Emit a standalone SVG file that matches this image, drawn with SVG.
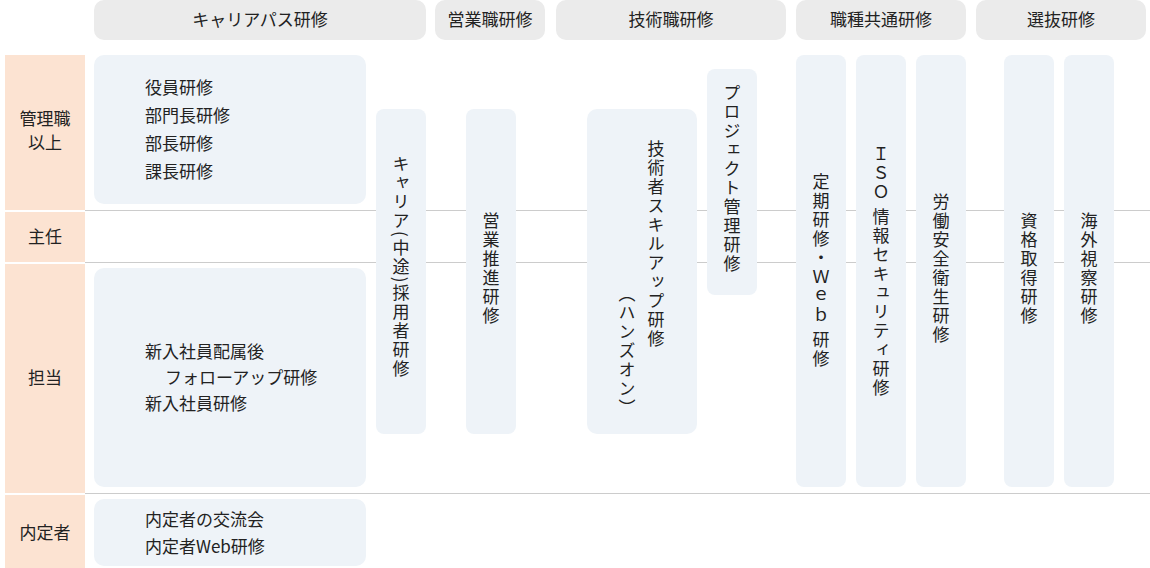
<svg xmlns="http://www.w3.org/2000/svg" width="1150" height="568" viewBox="0 0 1150 568">
<style>
.h{fill:#ebebeb}
.l{fill:#fce3d2}
.b{fill:#eef3f8}
text{font-family:"Noto Sans CJK JP","Noto Sans",sans-serif;font-size:17px;fill:#222}
.c{text-anchor:middle}
.v{writing-mode:vertical-rl;letter-spacing:2px}
.sep{stroke:#cccccc;stroke-width:1}
</style>
<rect width="1150" height="568" fill="#fff"/>
<g id="headers">
<rect class="h" x="94" y="0" width="332" height="40" rx="10"/><text class="c" x="260" y="26">キャリアパス研修</text>
<rect class="h" x="435" y="0" width="110" height="40" rx="10"/><text class="c" x="490" y="26">営業職研修</text>
<rect class="h" x="556" y="0" width="230" height="40" rx="10"/><text class="c" x="671" y="26">技術職研修</text>
<rect class="h" x="796" y="0" width="170" height="40" rx="10"/><text class="c" x="881" y="26">職種共通研修</text>
<rect class="h" x="976" y="0" width="170" height="40" rx="10"/><text class="c" x="1061" y="26">選抜研修</text>
</g>
<g id="rows">
<rect class="l" x="5" y="55" width="80" height="155"/><text class="c" x="45" y="125">管理職</text><text class="c" x="45" y="149">以上</text>
<rect class="l" x="5" y="212" width="80" height="50"/><text class="c" x="45" y="243">主任</text>
<rect class="l" x="5" y="264" width="80" height="229"/><text class="c" x="45" y="384">担当</text>
<rect class="l" x="5" y="495" width="80" height="73"/><text class="c" x="45" y="539">内定者</text>
</g>
<g id="connectors">
<line class="sep" x1="85" y1="210.5" x2="1150" y2="210.5"/>
<line class="sep" x1="85" y1="262.5" x2="1150" y2="262.5"/>
<line class="sep" x1="85" y1="493.5" x2="1150" y2="493.5"/>
</g>
<g id="n-mgmt"><rect class="b" x="94" y="55" width="272" height="149" rx="10"/>
<text x="145" y="94">役員研修</text><text x="145" y="122">部門長研修</text><text x="145" y="150">部長研修</text><text x="145" y="178">課長研修</text></g>
<g id="n-new"><rect class="b" x="94" y="268" width="272" height="219" rx="10"/>
<text x="145" y="358">新入社員配属後</text><text x="165" y="384">フォローアップ研修</text><text x="145" y="410">新入社員研修</text></g>
<g id="n-naitei"><rect class="b" x="94" y="499" width="272" height="67" rx="10"/>
<text x="145" y="526">内定者の交流会</text><text x="145" y="553">内定者Web研修</text></g>
<g id="n-career"><rect class="b" x="376" y="109" width="50" height="325" rx="8"/><text class="v" x="401" y="155">キャリア(中途)採用者研修</text></g>
<g id="n-sales"><rect class="b" x="466" y="109" width="50" height="325" rx="8"/><text class="v" x="491" y="212">営業推進研修</text></g>
<g id="n-tech"><rect class="b" x="587" y="109" width="110" height="325" rx="10"/><text class="v" x="656" y="140">技術者スキルアップ研修</text><text class="v" x="627" y="285">（ハンズオン）</text></g>
<g id="n-pm"><rect class="b" x="707" y="69" width="50" height="226" rx="8"/><text class="v" x="732" y="84">プロジェクト管理研修</text></g>
<g id="n-web"><rect class="b" x="796" y="55" width="50" height="432" rx="8"/><text class="v" x="821" y="173">定期研修・Ｗｅｂ 研修</text></g>
<g id="n-iso"><rect class="b" x="856" y="55" width="50" height="432" rx="8"/><text class="v" x="881" y="145">ＩＳＯ 情報セキュリティ研修</text></g>
<g id="n-safety"><rect class="b" x="916" y="55" width="50" height="432" rx="8"/><text class="v" x="941" y="193">労働安全衛生研修</text></g>
<g id="n-qual"><rect class="b" x="1004" y="55" width="50" height="432" rx="8"/><text class="v" x="1029" y="212">資格取得研修</text></g>
<g id="n-abroad"><rect class="b" x="1064" y="55" width="50" height="432" rx="8"/><text class="v" x="1089" y="212">海外視察研修</text></g>
</svg>
